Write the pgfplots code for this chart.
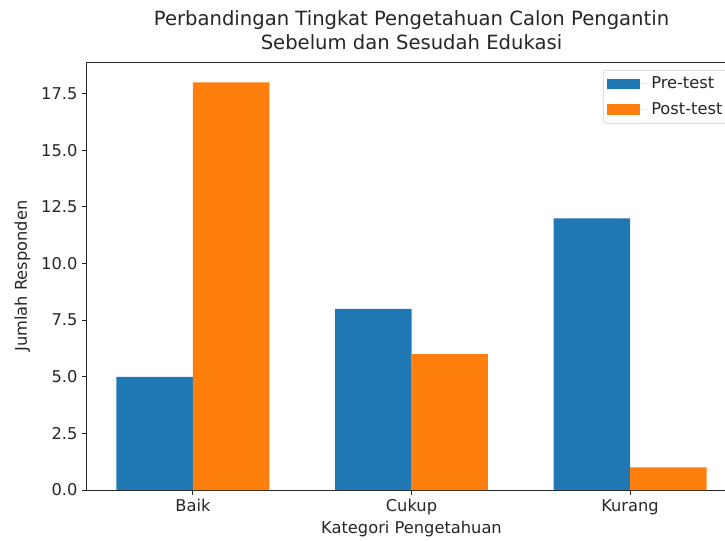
\documentclass[border=0pt]{standalone}
\usepackage{pgfplots}
\pgfplotsset{compat=1.18}
\usepackage{fontspec}
\setmainfont{DejaVu Sans}
\definecolor{c1}{HTML}{1F77B4}
\definecolor{c2}{HTML}{FF7F0E}
\begin{document}
\begin{tikzpicture}
\begin{axis}[
  scale only axis, width=486.75pt, height=321pt,
  xmin=-0.485, xmax=2.485, ymin=0, ymax=18.9,
  axis line style={line width=0.75pt, black!85},
  xtick={0,1,2}, xticklabels={Baik,Cukup,Kurang},
  ytick={0,2.5,5,7.5,10,12.5,15,17.5},
  /pgf/number format/assume math mode=true,
  yticklabel style={/pgf/number format/.cd, fixed, fixed zerofill, precision=1},
  tick label style={font=\fontsize{12.2}{14}\selectfont, black!85},
  tick align=outside, tick pos=left, major tick length=3.65pt,
  tick style={line width=0.75pt, black!85},
  xlabel={Kategori Pengetahuan},
  ylabel={Jumlah Responden},
  label style={font=\fontsize{12.2}{14}\selectfont, black!85},
  xlabel style={at={(0.5,0)}, anchor=north, yshift=-20pt},
  ylabel style={at={(0,0.5)}, anchor=south, yshift=39pt},
  title={Perbandingan Tingkat Pengetahuan Calon Pengantin\\Sebelum dan Sesudah Edukasi},
  title style={font=\fontsize{14.7}{18}\selectfont, align=center, at={(0.5,1)}, anchor=south, yshift=0pt, black!85},
  legend style={at={(1,1)}, anchor=north east, xshift=-5pt, yshift=-6pt,
    draw=black!20, rounded corners=2pt, fill=white, inner sep=3pt,
    font=\fontsize{12.2}{14}\selectfont, row sep=5pt, text=black!85},
  legend cell align=left,
  legend image code/.code={\fill[#1, sharp corners] (0pt,-4pt) rectangle (24.75pt,4pt);\path (0pt,0pt) -- (31pt,0pt);},
]
\addplot[ybar, bar width=0.35, bar shift=-0.175, fill=c1, draw=none] coordinates {(0,5) (1,8) (2,12)};
\addplot[ybar, bar width=0.35, bar shift=0.175, fill=c2, draw=none] coordinates {(0,18) (1,6) (2,1)};
\legend{Pre-test,Post-test}
\coordinate (SW) at (rel axis cs:0,0);
\end{axis}
\pgfresetboundingbox
\path (SW) ++(-65.25pt,-37.5pt) rectangle ++(543.75pt,405pt);
\end{tikzpicture}
\end{document}
